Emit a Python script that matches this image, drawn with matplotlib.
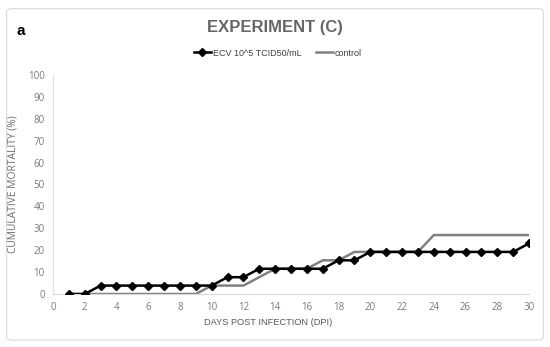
import matplotlib
matplotlib.use("Agg")
import matplotlib.pyplot as plt
from matplotlib.patches import FancyBboxPatch

days = list(range(1, 31))
ecv = [0, 0, 3.85, 3.85, 3.85, 3.85, 3.85, 3.85, 3.85, 3.85,
       7.69, 7.69, 11.54, 11.54, 11.54, 11.54, 11.54, 15.38, 15.38, 19.23,
       19.23, 19.23, 19.23, 19.23, 19.23, 19.23, 19.23, 19.23, 19.23, 23.08]
control = [0, 0, 0, 0, 0, 0, 0, 0, 0, 3.85,
           3.85, 3.85, 7.69, 11.54, 11.54, 11.54, 15.38, 15.38, 19.23, 19.23,
           19.23, 19.23, 19.23, 26.92, 26.92, 26.92, 26.92, 26.92, 26.92, 26.92]
xticks = list(range(0, 31, 2))
yticks = list(range(0, 101, 10))

plt.rcParams['font.family'] = ['Liberation Sans', 'DejaVu Sans']
fig = plt.figure(figsize=(5.5, 3.47), dpi=100)
fig.patch.set_facecolor('white')
border = FancyBboxPatch((0.012, 0.02), 0.976, 0.955, boxstyle="round,pad=0,rounding_size=0.01",
                        transform=fig.transFigure, fill=False, edgecolor='#d9d9d9', linewidth=0.8)
fig.patches.append(border)

ax = fig.add_axes([0.0964, 0.1527, 0.8654, 0.6312])
ax.plot(days, control, color='#808080', linewidth=1.8, label='control', zorder=2)
ax.plot(days, ecv, color='black', linewidth=1.8, marker='D', markersize=4,
        label='ECV 10^5 TCID50/mL', zorder=3)
ax.set_xlim(0, 30)
ax.set_ylim(0, 100)
ax.set_xticks(xticks)
ax.set_yticks(yticks)
ax.tick_params(axis='both', length=0, labelsize=7, labelcolor='#7a7a7a', pad=6)
for lab in ax.get_xticklabels() + ax.get_yticklabels():
    lab.set_family(['Open Sans', 'DejaVu Sans'])
for s in ['top', 'right']:
    ax.spines[s].set_visible(False)
ax.spines['left'].set_color('#e0e0e0')
ax.spines['bottom'].set_color('#d9d9d9')
ax.set_xlabel('DAYS POST INFECTION (DPI)', fontsize=6.7, color='#595959')
ax.xaxis.set_label_coords((268 - 53) / 476, -0.11)
ax.set_ylabel('CUMULATIVE MORTALITY (%)', fontsize=7.4, color='#6a6a6a', labelpad=7,
              family=['Open Sans', 'DejaVu Sans'])

handles, labels = ax.get_legend_handles_labels()
fig.legend(handles[::-1], labels[::-1], loc='center', bbox_to_anchor=(0.505, 0.847), ncol=2,
           frameon=False, fontsize=6.5, handlelength=1.9, columnspacing=1.6, handletextpad=0.2,
           labelcolor='#404040')
fig.text(0.5, 0.92, 'EXPERIMENT (C)', ha='center', va='center', fontsize=12,
         fontweight='bold', color='#666666')
fig.text(0.03, 0.912, 'a', ha='left', va='center', fontsize=11, fontweight='bold', color='black')

fig.savefig('out.png', dpi=100)
